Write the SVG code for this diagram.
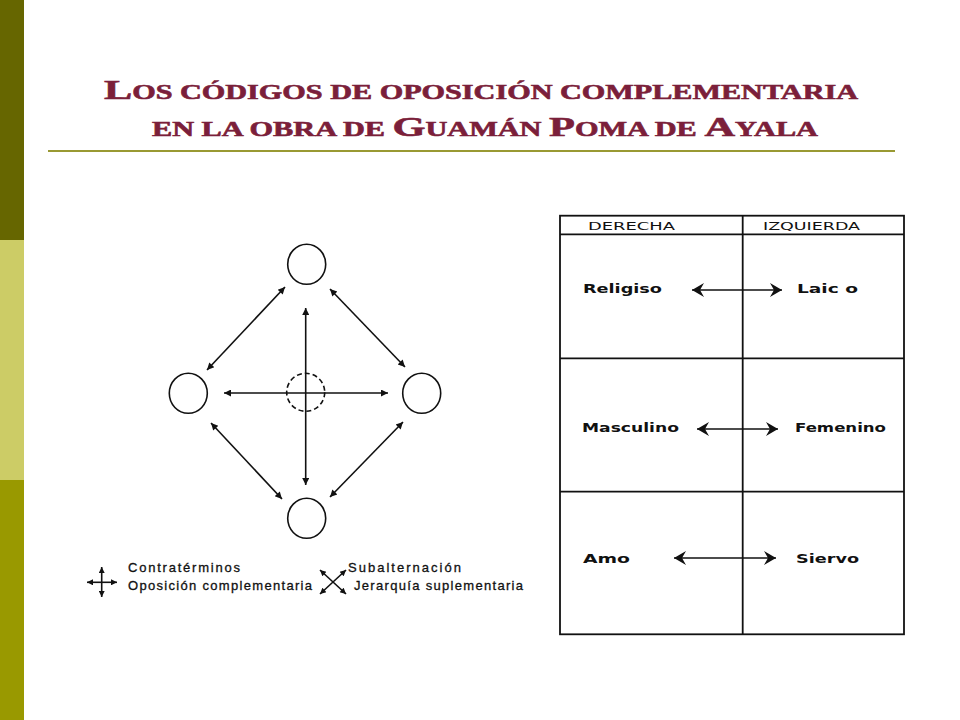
<svg xmlns="http://www.w3.org/2000/svg" width="960" height="720" viewBox="0 0 960 720">
<style>
.title{font-family:"Liberation Serif",serif;font-weight:bold;fill:#7b1f3a;stroke:#7b1f3a;stroke-width:0.6}
.ln{stroke:#111;stroke-width:1.6;fill:none}
.circ{stroke:#111;stroke-width:1.6;fill:#fff}
.dash{stroke:#111;stroke-width:1.6;fill:none;stroke-dasharray:5 3}
.tb{stroke:#111;stroke-width:1.8;fill:none}
.lbl{font-family:"DejaVu Sans",sans-serif;font-weight:bold;font-size:13px;fill:#111}
.hdr{font-family:"DejaVu Sans",sans-serif;font-size:11px;fill:#111}
.leg{font-family:"Liberation Sans",sans-serif;font-size:13px;fill:#111;stroke:#111;stroke-width:0.3}
</style>
<defs>
<marker id="ah" viewBox="0 0 10 10" refX="10" refY="5" markerWidth="9" markerHeight="7" markerUnits="userSpaceOnUse" orient="auto-start-reverse">
<path d="M0,0 L10,5 L0,10 z" fill="#111"/>
</marker>
<marker id="sm" viewBox="0 0 10 10" refX="10" refY="5" markerWidth="7" markerHeight="6" markerUnits="userSpaceOnUse" orient="auto-start-reverse">
<path d="M0,0 L10,5 L0,10 z" fill="#111"/>
</marker>
<marker id="fh" viewBox="0 0 12 14" refX="12" refY="7" markerWidth="12" markerHeight="14" markerUnits="userSpaceOnUse" orient="auto-start-reverse">
<path d="M0,0 L12,7 L0,14 L4,7 z" fill="#111"/>
</marker>
</defs>
<rect width="960" height="720" fill="#fff"/>
<g id="sidebar">
<rect x="0" y="0" width="24" height="240" fill="#666600"/>
<rect x="0" y="240" width="24" height="240" fill="#cccc66"/>
<rect x="0" y="480" width="24" height="240" fill="#999900"/>
</g>
<g id="title">
<text class="title" x="104" y="99" font-size="28" textLength="754" lengthAdjust="spacingAndGlyphs">L<tspan font-size="20">OS CÓDIGOS DE OPOSICIÓN COMPLEMENTARIA</tspan></text>
<text class="title" x="152" y="136" font-size="28" textLength="666" lengthAdjust="spacingAndGlyphs"><tspan font-size="20">EN LA OBRA DE </tspan>G<tspan font-size="20">UAMÁN </tspan>P<tspan font-size="20">OMA DE </tspan>A<tspan font-size="20">YALA</tspan></text>
<line x1="48" y1="151" x2="895" y2="151" stroke="#999933" stroke-width="2"/>
</g>
<g id="connectors">
<line class="ln" x1="305.7" y1="308" x2="305.7" y2="485" marker-start="url(#ah)" marker-end="url(#ah)"/>
<line class="ln" x1="224" y1="393" x2="388" y2="393" marker-start="url(#ah)" marker-end="url(#ah)"/>
<line class="ln" x1="285" y1="287" x2="207" y2="370" marker-start="url(#ah)" marker-end="url(#ah)"/>
<line class="ln" x1="330" y1="289" x2="405" y2="367" marker-start="url(#ah)" marker-end="url(#ah)"/>
<line class="ln" x1="211" y1="423" x2="282" y2="499" marker-start="url(#ah)" marker-end="url(#ah)"/>
<line class="ln" x1="403" y1="422" x2="330" y2="497" marker-start="url(#ah)" marker-end="url(#ah)"/>
</g>
<g id="node-top"><ellipse class="circ" cx="306.7" cy="264.3" rx="19" ry="20"/></g>
<g id="node-left"><ellipse class="circ" cx="188.3" cy="393.3" rx="19" ry="20"/></g>
<g id="node-right"><ellipse class="circ" cx="421.7" cy="393.3" rx="19" ry="20"/></g>
<g id="node-bottom"><ellipse class="circ" cx="306.7" cy="518.3" rx="19" ry="20"/></g>
<g id="node-center"><circle class="dash" cx="305.7" cy="392.3" r="19"/></g>
<g id="legend">
<line class="ln" x1="101.7" y1="567" x2="101.7" y2="597" marker-start="url(#sm)" marker-end="url(#sm)"/>
<line class="ln" x1="87" y1="582.3" x2="117" y2="582.3" marker-start="url(#sm)" marker-end="url(#sm)"/>
<text class="leg" x="128" y="571.7" textLength="112" lengthAdjust="spacing">Contratérminos</text>
<text class="leg" x="128" y="590" textLength="184" lengthAdjust="spacing">Oposición complementaria</text>
<line class="ln" x1="320" y1="570" x2="346" y2="594" marker-start="url(#sm)" marker-end="url(#sm)"/>
<line class="ln" x1="346" y1="570" x2="320" y2="594" marker-start="url(#sm)" marker-end="url(#sm)"/>
<text class="leg" x="348" y="571.7" textLength="113" lengthAdjust="spacing">Subalternación</text>
<text class="leg" x="354" y="590" textLength="169" lengthAdjust="spacing">Jerarquía suplementaria</text>
</g>
<g id="table">
<rect class="tb" x="560" y="215.7" width="344" height="418.6" stroke-width="2.2"/>
<line class="tb" x1="560" y1="234.3" x2="904" y2="234.3"/>
<line class="tb" x1="742.7" y1="215.7" x2="742.7" y2="634.3" stroke-width="1.4"/>
<line class="tb" x1="560" y1="358.3" x2="904" y2="358.3"/>
<line class="tb" x1="560" y1="491.7" x2="904" y2="491.7"/>
<text class="hdr" x="588" y="230" textLength="87" lengthAdjust="spacingAndGlyphs">DERECHA</text>
<text class="hdr" x="763" y="230" textLength="97" lengthAdjust="spacingAndGlyphs">IZQUIERDA</text>
</g>
<g id="row-1">
<text class="lbl" x="583" y="293" textLength="79" lengthAdjust="spacingAndGlyphs">Religiso</text>
<line class="ln" x1="692" y1="290" x2="782" y2="290" marker-start="url(#fh)" marker-end="url(#fh)"/>
<text class="lbl" x="797" y="293" textLength="61" lengthAdjust="spacingAndGlyphs">Laic o</text>
</g>
<g id="row-2">
<text class="lbl" x="582" y="431.7" textLength="97" lengthAdjust="spacingAndGlyphs">Masculino</text>
<line class="ln" x1="697" y1="429" x2="778" y2="429" marker-start="url(#fh)" marker-end="url(#fh)"/>
<text class="lbl" x="795" y="431.7" textLength="91" lengthAdjust="spacingAndGlyphs">Femenino</text>
</g>
<g id="row-3">
<text class="lbl" x="583" y="562.7" textLength="47" lengthAdjust="spacingAndGlyphs">Amo</text>
<line class="ln" x1="674" y1="558" x2="776" y2="558" marker-start="url(#fh)" marker-end="url(#fh)"/>
<text class="lbl" x="796" y="562.7" textLength="63" lengthAdjust="spacingAndGlyphs">Siervo</text>
</g>
</svg>
